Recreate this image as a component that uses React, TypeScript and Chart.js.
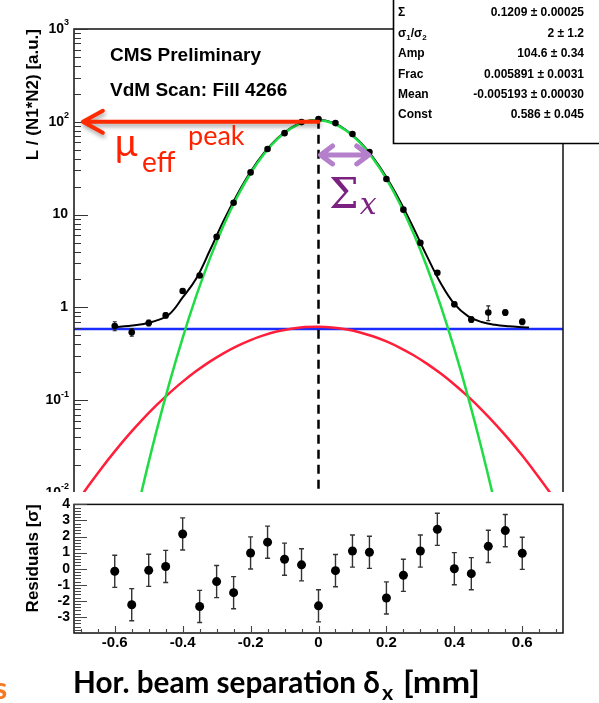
import React, { useEffect, useRef } from 'react';
import { Chart, registerables } from 'chart.js';

Chart.register(...registerables);

// ---------------- data ----------------
const sepX = [-0.6, -0.55, -0.5, -0.45, -0.4, -0.35, -0.3, -0.25, -0.2, -0.15, -0.1, -0.05, 0, 0.05, 0.1, 0.15, 0.2, 0.25, 0.3, 0.35, 0.4, 0.45, 0.5, 0.55, 0.6];
const lumi = [0.63, 0.54, 0.68, 0.82, 1.5, 2.21, 5.76, 13.4, 28.5, 50.9, 75.5, 99.3, 107, 96.8, 73.8, 47.2, 24.2, 11.3, 4.96, 2.36, 1.08, 0.74, 0.88, 0.88, 0.7];
const lumiErr = [0.07, 0.05, 0.05, 0.05, 0.07, 0.08, 0.15, 0.3, 0.4, 0.5, 0.6, 0.7, 0.7, 0.7, 0.6, 0.5, 0.4, 0.3, 0.15, 0.08, 0.06, 0.05, 0.16, 0.06, 0.05];
const resid = [-0.16, -2.24, -0.1, 0.14, 2.16, -2.35, -0.8, -1.49, 0.98, 1.65, 0.59, 0.24, -2.31, -0.12, 1.1, 1.02, -1.82, -0.41, 1.1, 2.45, 0, -0.31, 1.39, 2.37, 0.96];
const residErr = [1, 1, 1, 1, 1, 1, 1, 1, 1, 1, 1, 1, 1, 1, 1, 1, 1, 1, 1, 1, 1, 1, 1, 1, 1];

const curveX = [-0.72, -0.68, -0.64, -0.6, -0.56, -0.52, -0.48, -0.44, -0.4, -0.36, -0.32, -0.28, -0.24, -0.2, -0.16, -0.12, -0.08, -0.04, 0, 0.04, 0.08, 0.12, 0.16, 0.2, 0.24, 0.28, 0.32, 0.36, 0.4, 0.44, 0.48, 0.52, 0.56, 0.6, 0.64, 0.68, 0.72];
const wideY = [0.0071, 0.0116, 0.0183, 0.0281, 0.042, 0.0611, 0.0863, 0.1186, 0.1585, 0.206, 0.2604, 0.32, 0.3826, 0.4447, 0.5026, 0.5523, 0.59, 0.6134, 0.62, 0.609, 0.582, 0.5408, 0.4887, 0.4294, 0.3669, 0.3048, 0.2463, 0.1934, 0.1478, 0.1098, 0.0793, 0.0557, 0.0381, 0.0253, 0.0163, 0.0103, 0.0063];
const narrowX = [-0.56, -0.52, -0.48, -0.44, -0.4, -0.36, -0.32, -0.28, -0.24, -0.2, -0.16, -0.12, -0.08, -0.04, 0, 0.04, 0.08, 0.12, 0.16, 0.2, 0.24, 0.28, 0.32, 0.36, 0.4, 0.44, 0.48, 0.52, 0.56];
const narrowY = [0.00244, 0.0107, 0.0423, 0.149, 0.47, 1.328, 3.358, 7.59, 15.38, 27.9, 45.3, 65.8, 85.6, 99.7, 103.9, 96.96, 81.0, 60.6, 40.5, 24.3, 13.03, 6.25, 2.69, 1.036, 0.3565, 0.11, 0.0304, 0.0075, 0.00165];
const fitX = [-0.6, -0.56, -0.52, -0.48, -0.44, -0.4, -0.36, -0.32, -0.28, -0.24, -0.2, -0.16, -0.12, -0.08, -0.04, 0, 0.04, 0.08, 0.12, 0.16, 0.2, 0.24, 0.28, 0.32, 0.36, 0.4, 0.44, 0.48, 0.52, 0.56, 0.6, 0.62];
const fitY = [0.615, 0.63, 0.658, 0.715, 0.84, 1.28, 2.05, 4.1, 8.5, 16.3, 28.9, 46.4, 66.9, 86.8, 100.9, 105.1, 98.2, 82.2, 61.7, 41.6, 25.3, 13.98, 7.14, 3.52, 1.82, 1.09, 0.806, 0.696, 0.649, 0.626, 0.612, 0.607];
const constX = [-0.72, 0.72];
const constY = [0.586, 0.586];

const logTicks = [0.01, 0.1, 1, 10, 100, 1000];
const logTickLabels = [['10', '-2'], ['10', '-1'], ['1', ''], ['10', ''], ['10', '2'], ['10', '3']];
const xTicks = [-0.6, -0.4, -0.2, 0, 0.2, 0.4, 0.6];
const xTickLabels = ['-0.6', '-0.4', '-0.2', '0', '0.2', '0.4', '0.6'];
const residTicks = [-3, -2, -1, 0, 1, 2, 3, 4];
const residTickLabels = ['-3', '-2', '-1', '0', '1', '2', '3', '4'];

const statNames = ['Σ', 'σ1/σ2', 'Amp', 'Frac', 'Mean', 'Const'];
const statValues = ['0.1209 ± 0.00025', '2 ± 1.2', '104.6 ± 0.34', '0.005891 ± 0.0031', '-0.005193 ± 0.00030', '0.586 ± 0.045'];

// annotation anchors (data coordinates)
const peakX = 0;
const peakY = 105;
const arrowY = 100;
const arrowToX = -0.694;
const sigmaY = 44;
const sigmaFrom = 0.006;
const sigmaTo = 0.148;

const ROOT_FONT = '"Liberation Sans", Arial, sans-serif';

const pts = (xs: number[], ys: number[]) => xs.map((x, i) => ({ x, y: ys[i] }));

function drawErrorBars(chart: any, xs: number[], ys: number[], errs: number[], cap: number, lw: number, color: string) {
  const { ctx, scales } = chart;
  const x = scales.x, y = scales.y;
  ctx.save();
  ctx.strokeStyle = color;
  ctx.lineWidth = lw;
  ctx.beginPath();
  xs.forEach((xv, i) => {
    const px = x.getPixelForValue(xv);
    const p1 = y.getPixelForValue(ys[i] - errs[i]);
    const p2 = y.getPixelForValue(ys[i] + errs[i]);
    ctx.moveTo(px, p1);
    ctx.lineTo(px, p2);
    if (cap > 0) {
      ctx.moveTo(px - cap, p1); ctx.lineTo(px + cap, p1);
      ctx.moveTo(px - cap, p2); ctx.lineTo(px + cap, p2);
    }
  });
  ctx.stroke();
  ctx.restore();
}

const topDecor = {
  id: 'topDecor',
  beforeDatasetDraw(chart: any, args: any) {
    if (args.index !== 0) return;
    drawErrorBars(chart, sepX, lumi, lumiErr, 2, 1.2, '#222');
  },
  afterDatasetsDraw(chart: any) {
    const { ctx, chartArea: a, scales } = chart;
    const y = scales.y;
    ctx.save();
    ctx.strokeStyle = '#111';
    ctx.lineWidth = 1.5;
    ctx.strokeRect(a.left, a.top, a.right - a.left, a.bottom - a.top);
    // log ticks, inward
    ctx.lineWidth = 1.2;
    ctx.strokeStyle = '#333';
    ctx.beginPath();
    for (let e = -2; e <= 3; e++) {
      for (let m = 1; m <= 9; m++) {
        const v = m * Math.pow(10, e);
        if (v > 1000.001) break;
        const py = Math.round(y.getPixelForValue(v)) + 0.5;
        const len = m === 1 ? 14 : 7;
        ctx.moveTo(a.left, py);
        ctx.lineTo(a.left + len, py);
      }
    }
    ctx.stroke();
    // tick labels with superscripts
    ctx.fillStyle = '#000';
    ctx.textBaseline = 'middle';
    ctx.textAlign = 'left';
    logTicks.forEach((v, i) => {
      const py = y.getPixelForValue(v);
      const [base, sup] = logTickLabels[i];
      ctx.font = `bold 14px ${ROOT_FONT}`;
      const bw = ctx.measureText(base).width;
      ctx.font = `bold 9px ${ROOT_FONT}`;
      const sw = sup ? ctx.measureText(sup).width : 0;
      const right = sup ? 69 : 68;
      const bx = right - sw - bw;
      ctx.font = `bold 14px ${ROOT_FONT}`;
      ctx.fillText(base, bx, py);
      if (sup) {
        ctx.font = `bold 9px ${ROOT_FONT}`;
        ctx.fillText(sup, bx + bw, py - 6);
      }
    });
    ctx.restore();
  },
  afterDraw(chart: any) {
    const { ctx, chartArea: a, scales } = chart;
    const ax = (v: number) => scales.x.getPixelForValue(v);
    const ay = (v: number) => scales.y.getPixelForValue(v);

    // CMS labels
    ctx.save();
    ctx.fillStyle = '#000';
    ctx.font = `bold 19px ${ROOT_FONT}`;
    ctx.textBaseline = 'alphabetic';
    ctx.fillText('CMS Preliminary', 110, 61);
    ctx.fillText('VdM Scan: Fill 4266', 110, 96);
    ctx.restore();

    // dashed vertical line at peak
    ctx.save();
    ctx.setLineDash([9, 6]);
    ctx.lineWidth = 2.5;
    ctx.strokeStyle = '#000';
    ctx.beginPath();
    ctx.moveTo(ax(peakX), ay(peakY));
    ctx.lineTo(ax(peakX), a.bottom);
    ctx.stroke();
    ctx.restore();

    // red arrow
    ctx.save();
    ctx.shadowColor = 'rgba(0,0,0,0.35)';
    ctx.shadowBlur = 4;
    ctx.shadowOffsetX = 1;
    ctx.shadowOffsetY = 3;
    ctx.strokeStyle = '#ff2a00';
    ctx.lineWidth = 4;
    ctx.lineCap = 'round';
    ctx.lineJoin = 'round';
    const ry = ay(arrowY), rx0 = ax(peakX), rx1 = ax(arrowToX);
    ctx.beginPath();
    ctx.moveTo(rx0, ry);
    ctx.lineTo(rx1 + 2, ry);
    ctx.moveTo(rx1 + 20, ry - 11);
    ctx.lineTo(rx1, ry);
    ctx.lineTo(rx1 + 20, ry + 11);
    ctx.stroke();
    ctx.restore();

    // mu_eff^peak
    ctx.save();
    ctx.fillStyle = '#ff2200';
    ctx.textBaseline = 'alphabetic';
    ctx.font = '38px Lato, "Noto Sans", sans-serif';
    ctx.fillText('µ', 114, 156);
    ctx.font = '28px Lato, "Noto Sans", sans-serif';
    ctx.fillText('eff', 142, 172);
    ctx.font = '27px Lato, "Noto Sans", sans-serif';
    ctx.fillText('peak', 188, 145);
    ctx.restore();

    // purple double arrow
    ctx.save();
    ctx.strokeStyle = '#b47fcb';
    ctx.lineWidth = 5;
    ctx.lineCap = 'round';
    ctx.lineJoin = 'round';
    const sy = ay(sigmaY), s0 = ax(sigmaFrom), s1 = ax(sigmaTo);
    ctx.beginPath();
    ctx.moveTo(s0 + 2, sy); ctx.lineTo(s1 - 2, sy);
    ctx.moveTo(s0 + 12, sy - 9); ctx.lineTo(s0, sy); ctx.lineTo(s0 + 12, sy + 9);
    ctx.moveTo(s1 - 12, sy - 9); ctx.lineTo(s1, sy); ctx.lineTo(s1 - 12, sy + 9);
    ctx.stroke();
    ctx.restore();

    // Sigma_x
    ctx.save();
    ctx.fillStyle = '#7b2181';
    ctx.textBaseline = 'alphabetic';
    ctx.font = '42px "DejaVu Serif", serif';
    ctx.fillText('Σ', 329, 208);
    const sw = ctx.measureText('Σ').width;
    ctx.font = 'italic 30px "DejaVu Serif", serif';
    ctx.fillText('x', 329 + sw + 1, 214);
    ctx.restore();

    // stats box
    ctx.save();
    ctx.fillStyle = '#fff';
    ctx.fillRect(393, -2, 215, 145.5);
    ctx.strokeStyle = '#000';
    ctx.lineWidth = 1.6;
    ctx.beginPath();
    ctx.moveTo(393.5, -2);
    ctx.lineTo(393.5, 143.5);
    ctx.lineTo(605, 143.5);
    ctx.stroke();
    ctx.fillStyle = '#000';
    ctx.textBaseline = 'middle';
    const rowY = [13, 33.4, 53.8, 74.2, 94.6, 115];
    statNames.forEach((name, i) => {
      const yy = rowY[i];
      ctx.textAlign = 'left';
      if (name === 'σ1/σ2') {
        let xx = 398;
        ctx.font = `bold 12px ${ROOT_FONT}`;
        ctx.fillText('σ', xx, yy); xx += ctx.measureText('σ').width;
        ctx.font = `bold 8px ${ROOT_FONT}`;
        ctx.fillText('1', xx, yy + 4); xx += ctx.measureText('1').width;
        ctx.font = `bold 12px ${ROOT_FONT}`;
        ctx.fillText('/σ', xx, yy); xx += ctx.measureText('/σ').width;
        ctx.font = `bold 8px ${ROOT_FONT}`;
        ctx.fillText('2', xx, yy + 4);
      } else {
        ctx.font = `bold 12px ${ROOT_FONT}`;
        ctx.fillText(name, 398, yy);
      }
      ctx.font = `bold 12px ${ROOT_FONT}`;
      ctx.textAlign = 'right';
      ctx.fillText(statValues[i], 584, yy);
    });
    ctx.restore();
  },
};

const botDecor = {
  id: 'botDecor',
  beforeDraw(chart: any) {
    const { ctx, width, height } = chart;
    ctx.save();
    ctx.fillStyle = '#fff';
    ctx.fillRect(0, 0, width, height);
    ctx.restore();
  },
  beforeDatasetDraw(chart: any, args: any) {
    if (args.index !== 0) return;
    drawErrorBars(chart, sepX, resid, residErr, 2.5, 1.4, '#333');
  },
  afterDatasetsDraw(chart: any) {
    const { ctx, chartArea: a, scales } = chart;
    ctx.save();
    ctx.strokeStyle = '#111';
    ctx.lineWidth = 1.5;
    ctx.strokeRect(a.left, a.top, a.right - a.left, a.bottom - a.top);
    ctx.lineWidth = 1.1;
    ctx.strokeStyle = '#444';
    ctx.beginPath();
    for (let k = -20; k <= 20; k++) {
      const py = Math.round(scales.y.getPixelForValue(k * 0.2)) + 0.5;
      const len = k % 5 === 0 ? 13 : 7;
      ctx.moveTo(a.left, py);
      ctx.lineTo(a.left + len, py);
    }
    for (let k = -14; k <= 14; k++) {
      const px = Math.round(scales.x.getPixelForValue(k * 0.05)) + 0.5;
      const len = k % 4 === 0 ? 7 : 4;
      ctx.moveTo(px, a.bottom);
      ctx.lineTo(px, a.bottom - len);
    }
    ctx.stroke();
    ctx.restore();
  },
  afterDraw(chart: any) {
    const { ctx } = chart;
    ctx.save();
    ctx.fillStyle = '#000';
    ctx.textBaseline = 'alphabetic';
    const fam = 'Lato, "Noto Sans", sans-serif';
    ctx.font = `bold 28px ${fam}`;
    const main = 'Hor. beam separation ';
    const w0 = ctx.measureText(main + 'δ').width;
    const size = 28 * 307 / w0;
    ctx.font = `bold ${size}px ${fam}`;
    const base = 693 - 492;
    let xx = 73;
    ctx.fillText(main + 'δ', xx, base);
    xx += ctx.measureText(main + 'δ').width + 2;
    ctx.font = `bold ${size * 0.72}px ${fam}`;
    ctx.fillText('x', xx, base + 7);
    // [mm], stretched to the original's width
    ctx.font = `bold ${size}px ${fam}`;
    const mw = ctx.measureText('[mm]').width;
    ctx.save();
    ctx.translate(403, base);
    ctx.scale(77 / mw, 1);
    ctx.fillText('[mm]', 0, 0);
    ctx.restore();
    // cropped orange letter from the slide
    ctx.fillStyle = '#f47a1f';
    ctx.font = `bold 30px ${fam}`;
    ctx.fillText('s', -6, 699 - 492);
    ctx.restore();
  },
};

const axisTitleFont = { family: ROOT_FONT, weight: 'bold' as const, size: 17 };
const tickFont = { family: ROOT_FONT, weight: 'bold' as const, size: 14 };

export default function App() {
  const topRef = useRef<HTMLCanvasElement>(null);
  const botRef = useRef<HTMLCanvasElement>(null);

  useEffect(() => {
    const top = new Chart(topRef.current as HTMLCanvasElement, {
      type: 'line',
      data: {
        datasets: [
          { label: 'data', data: pts(sepX, lumi), showLine: false, pointRadius: 3.3, pointBackgroundColor: '#000', pointBorderWidth: 0, order: 0 } as any,
          { label: 'narrow', data: pts(narrowX, narrowY), borderColor: '#1fdc45', borderWidth: 2.5, pointRadius: 0, tension: 0.4, capBezierPoints: false, order: 1 } as any,
          { label: 'fit', data: pts(fitX, fitY), borderColor: '#000', borderWidth: 2, pointRadius: 0, tension: 0.4, capBezierPoints: false, order: 2 } as any,
          { label: 'wide', data: pts(curveX, wideY), borderColor: '#ff1f3a', borderWidth: 2.5, pointRadius: 0, tension: 0.4, capBezierPoints: false, order: 3 } as any,
          { label: 'const', data: pts(constX, constY), borderColor: '#1b2cff', borderWidth: 2.5, pointRadius: 0, order: 4 } as any,
        ],
      },
      options: {
        responsive: false,
        animation: false,
        events: [],
        layout: { autoPadding: false, padding: { left: 0, right: 36, top: 29, bottom: 3 } },
        plugins: { legend: { display: false }, tooltip: { enabled: false } },
        scales: {
          x: { type: 'linear', min: -0.72, max: 0.72, display: false },
          y: {
            type: 'logarithmic', min: 0.01, max: 1000,
            grid: { display: false, drawTicks: false },
            border: { display: false },
            ticks: { display: false },
            afterBuildTicks: (s: any) => { s.ticks = logTicks.map((v) => ({ value: v })); },
            afterFit: (s: any) => { s.width = 74; },
            title: { display: true, text: 'L / (N1*N2) [a.u.]', align: 'end', color: '#000', font: axisTitleFont, padding: { top: 22.8, bottom: 0 } },
          } as any,
        },
      },
      plugins: [topDecor],
    });

    const bot = new Chart(botRef.current as HTMLCanvasElement, {
      type: 'line',
      data: {
        datasets: [
          { label: 'residuals', data: pts(sepX, resid), showLine: false, pointRadius: 4.5, pointBackgroundColor: '#000', pointBorderWidth: 0 } as any,
        ],
      },
      options: {
        responsive: false,
        animation: false,
        events: [],
        layout: { autoPadding: false, padding: { left: 0, right: 36, top: 1, bottom: 0 } },
        plugins: { legend: { display: false }, tooltip: { enabled: false } },
        scales: {
          x: {
            type: 'linear', min: -0.72, max: 0.72, position: 'bottom',
            grid: { display: false, drawTicks: false },
            border: { display: false },
            ticks: { color: '#000', font: { ...tickFont, size: 15 }, padding: 1, maxRotation: 0, autoSkip: false, callback: (_v: any, i: number) => xTickLabels[i] ?? '' },
            afterBuildTicks: (s: any) => { s.ticks = xTicks.map((v) => ({ value: v })); },
            afterFit: (s: any) => { s.height = 70; },
          } as any,
          y: {
            type: 'linear', min: -4, max: 4,
            grid: { display: false, drawTicks: false },
            border: { display: false },
            ticks: { color: '#000', font: tickFont, padding: 4, autoSkip: false, callback: (_v: any, i: number) => residTickLabels[i] ?? '' },
            afterBuildTicks: (s: any) => { s.ticks = residTicks.map((v) => ({ value: v })); },
            afterFit: (s: any) => { s.width = 74; },
            title: { display: true, text: 'Residuals [σ]', align: 'end', color: '#000', font: axisTitleFont, padding: { top: 22.8, bottom: 0 } },
          } as any,
        },
      },
      plugins: [botDecor],
    });

    return () => {
      top.destroy();
      bot.destroy();
    };
  }, []);

  return (
    <div style={{ position: 'absolute', left: 0, top: 0, width: 599, height: 703, background: '#fff', overflow: 'hidden' }}>
      <canvas ref={topRef} width={599} height={496} style={{ position: 'absolute', left: 0, top: 0 }} />
      <canvas ref={botRef} width={599} height={211} style={{ position: 'absolute', left: 0, top: 492 }} />
    </div>
  );
}
